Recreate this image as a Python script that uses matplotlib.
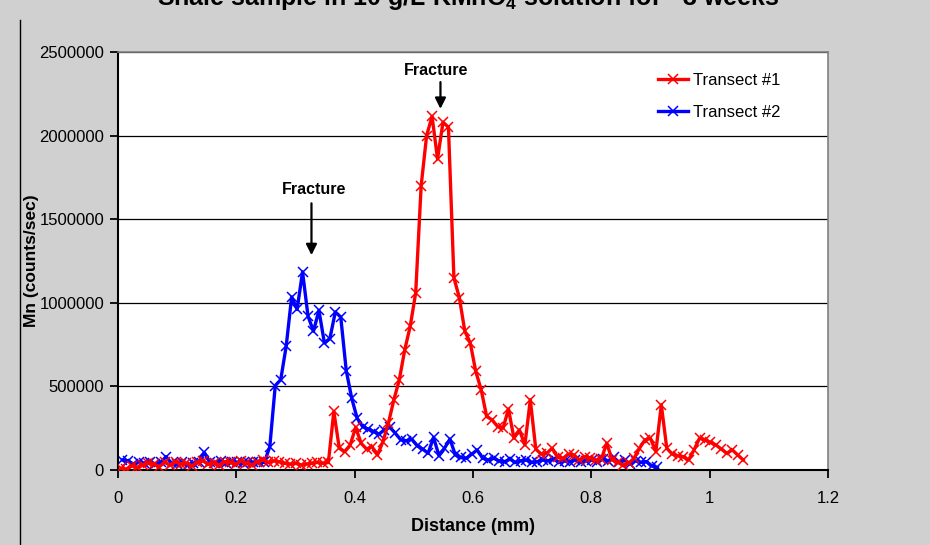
import numpy as np
import matplotlib
matplotlib.use('Agg')
import matplotlib.pyplot as plt
from matplotlib.ticker import FuncFormatter, MultipleLocator
from matplotlib.lines import Line2D

plt.rcParams['font.family'] = ['Liberation Sans', 'DejaVu Sans']
plt.rcParams['mathtext.fontset'] = 'custom'
plt.rcParams['mathtext.rm'] = 'Liberation Sans'
plt.rcParams['mathtext.bf'] = 'Liberation Sans:bold'

# transect #1 (red), counts/sec in thousands, evenly spaced along the transect
step = 0.009225
red_x0 = 0.005
red_k = [10, 5, 25, 15, 30, 40, 35, 20, 45, 30, 50, 35, 40, 25, 45, 55, 35, 40, 30, 50,
         45, 35, 55, 40, 30, 50, 60, 45, 55, 50, 40, 35, 40, 30, 35, 40, 45, 40, 45, 350,
         130, 110, 150, 255, 160, 125, 140, 90, 170, 280, 420, 540, 720, 860, 1060, 1700, 2000, 2115, 1860, 2080,
         2050, 1150, 1030, 830, 760, 590, 480, 320, 300, 260, 250, 365, 190, 240, 150, 420, 125, 95, 100, 130,
         75, 70, 95, 90, 60, 80, 70, 60, 65, 160, 60, 45, 30, 40, 70, 130, 180, 190, 110, 390,
         130, 95, 85, 80, 60, 120, 190, 180, 165, 150, 125, 100, 120, 90, 60]

# transect #2 (blue)
blue_x0 = 0.0075
blue_k = [60, 55, 35, 50, 40, 50, 35, 45, 80, 40, 35, 45, 30, 40, 50, 105, 45, 40, 55, 40,
          50, 45, 40, 50, 45, 50, 45, 140, 505, 540, 740, 1035, 960, 1185, 920, 830, 955, 760, 785, 945,
          915, 595, 430, 310, 260, 245, 230, 215, 240, 255, 220, 180, 175, 185, 145, 125, 100, 195, 85, 130,
          185, 90, 75, 70, 95, 120, 70, 60, 70, 55, 50, 65, 45, 55, 60, 45, 50, 60, 55, 65,
          45, 55, 50, 60, 45, 55, 60, 50, 65, 55, 75, 45, 60, 35, 55, 45, 50, 25, 15]

red_x = red_x0 + step * np.arange(len(red_k))
blue_x = blue_x0 + step * np.arange(len(blue_k))
red_y = np.array(red_k) * 1000
blue_y = np.array(blue_k) * 1000

title = r'Shale sample in 10 g/L KMnO$_\mathbf{4}$ solution for ~3 weeks'

fig = plt.figure(figsize=(9.3, 5.45), dpi=100, facecolor='#d0d0d0')
ax = fig.add_axes([118/930, 1 - 470/545, 710/930, 418/545])
ax.set_facecolor('white')

ax.plot(red_x, red_y, color='#ff0000', lw=2.4, marker='x', ms=7.5, mew=1.1, label='Transect #1', zorder=3)
ax.plot(blue_x, blue_y, color='#0000ff', lw=2.4, marker='x', ms=7.5, mew=1.1, label='Transect #2', zorder=2)

ax.set_xlim(0, 1.2)
ax.set_ylim(0, 2500000)
ax.xaxis.set_major_locator(MultipleLocator(0.2))
ax.yaxis.set_major_locator(MultipleLocator(500000))
ax.xaxis.set_major_formatter(FuncFormatter(lambda v, p: '%g' % round(v, 2)))
ax.yaxis.set_major_formatter(FuncFormatter(lambda v, p: '%d' % v))
ax.grid(axis='y', color='black', lw=0.9)
ax.set_axisbelow(True)
ax.tick_params(axis='both', direction='out', length=6, width=1.3, labelsize=12, colors='black')
ax.tick_params(axis='x', pad=9)
ax.tick_params(axis='y', pad=4)
for s in ['left', 'bottom']:
    ax.spines[s].set_linewidth(1.5)
for s in ['top', 'right']:
    ax.spines[s].set_color('#808080')
    ax.spines[s].set_linewidth(1.2)

ax.set_xlabel('Distance (mm)', fontsize=13, fontweight='bold', labelpad=9)
ax.set_ylabel('Mn (counts/sec)', fontsize=12.5, fontweight='bold', labelpad=0)

# fracture markers
ax.text(0.538, 2390000, 'Fracture', ha='center', va='center', fontsize=11.5, fontweight='bold')
ax.annotate('', xy=(0.545, 2160000), xytext=(0.545, 2320000),
            arrowprops=dict(arrowstyle='-|>', color='black', lw=1.6, mutation_scale=16, shrinkA=0, shrinkB=0))
ax.text(0.332, 1675000, 'Fracture', ha='center', va='center', fontsize=11.5, fontweight='bold')
ax.annotate('', xy=(0.327, 1285000), xytext=(0.327, 1595000),
            arrowprops=dict(arrowstyle='-|>', color='black', lw=1.6, mutation_scale=16, shrinkA=0, shrinkB=0))

ax.legend(loc='upper left', bbox_to_anchor=(0.74, 0.985), frameon=False, fontsize=12,
          handlelength=1.8, handletextpad=0.25, labelspacing=1.0)

# left edge of the chart frame
fig.add_artist(Line2D([20/930, 20/930], [0, 1 - 20/545], color='black', lw=1.0))

fig.text(468/930, 1 - 5/545, title, ha='center', va='baseline', fontsize=18, fontweight='bold')

plt.savefig('out.png', dpi=100, facecolor=fig.get_facecolor())
